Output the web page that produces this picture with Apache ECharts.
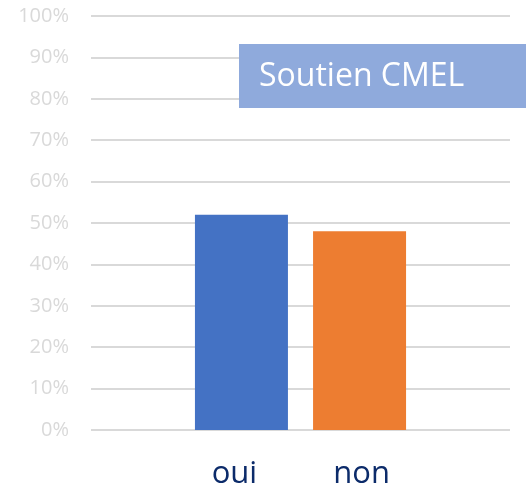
<!DOCTYPE html>
<html>
<head>
<meta charset="utf-8">
<script src="https://cdn.jsdelivr.net/npm/echarts@6/dist/echarts.min.js"></script>
<style>
html,body{margin:0;padding:0;background:#fff;}
#c{width:526px;height:489px;}
</style>
</head>
<body>
<div id="c"></div>
<script>
const titleText = 'Soutien CMEL';
const categories = ['Soutien CMEL'];
const seriesNames = ['oui', 'non'];
const seriesValues = [[52], [48]];
const seriesColors = ['#4472C4', '#ED7D31'];
const yTicks = [0, 10, 20, 30, 40, 50, 60, 70, 80, 90, 100];

const chart = echarts.init(document.getElementById('c'), null, {renderer: 'canvas'});
const labelOffsets = [[-7, 44], [2, 44]];
chart.setOption({
  animation: false,
  backgroundColor: '#ffffff',
  graphic: [
    {type: 'rect', z: 100, shape: {x: 239, y: 44, width: 287, height: 64}, style: {fill: '#8FAADC'}},
    {type: 'text', z: 101, x: 259, y: 77, style: {text: titleText, fill: '#ffffff', fontSize: 32, fontFamily: 'Open Sans', verticalAlign: 'middle', align: 'left'}}
  ],
  grid: {left: 91, right: 16, top: 16, bottom: 59, containLabel: false},
  xAxis: {
    type: 'category',
    data: categories,
    axisLine: {show: false},
    axisTick: {show: false},
    axisLabel: {show: false}
  },
  yAxis: {
    type: 'value',
    min: yTicks[0], max: yTicks[yTicks.length - 1], interval: 10,
    axisLine: {show: false},
    axisTick: {show: false},
    axisLabel: {formatter: '{value}%', color: '#d9d9d9', fontSize: 20, fontFamily: 'Open Sans', margin: 22},
    splitLine: {lineStyle: {color: '#d9d9d9', width: 2}}
  },
  series: seriesNames.map((name, i) => ({
    type: 'bar',
    name: name,
    data: seriesValues[i],
    barWidth: 93,
    barGap: '27%',
    itemStyle: {color: seriesColors[i]},
    label: {
      show: true,
      formatter: '{a}',
      position: ['50%', '100%'],
      align: 'center',
      verticalAlign: 'middle',
      offset: labelOffsets[i],
      color: '#0c2b6a',
      fontSize: 31,
      fontFamily: 'Open Sans'
    }
  }))
});
</script>
</body>
</html>
